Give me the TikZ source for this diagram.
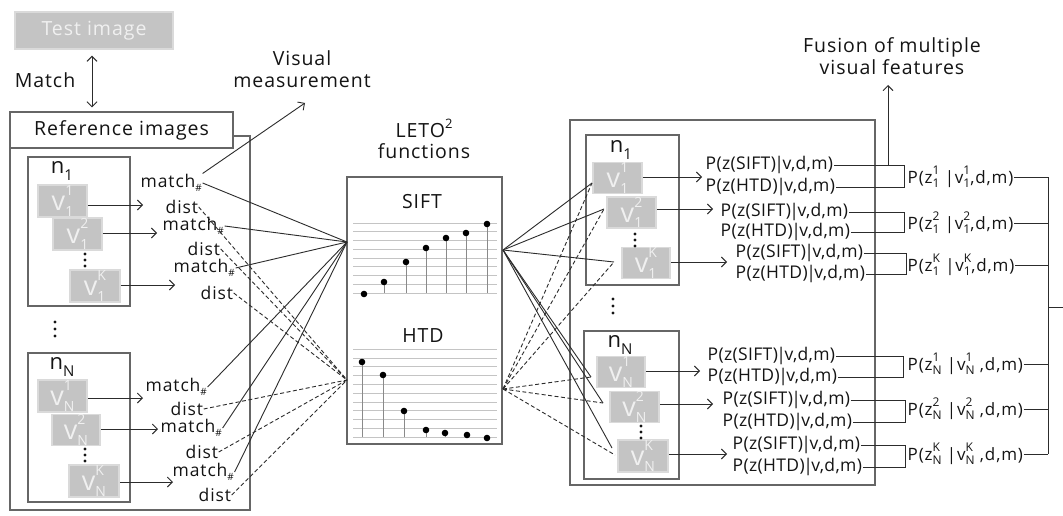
\documentclass[tikz,border=0pt]{standalone}
\usepackage{fontspec}
\setmainfont{Open Sans}[LetterSpace=5]
\usetikzlibrary{arrows.meta,calc}
\definecolor{ink}{HTML}{141414}
\definecolor{edge}{HTML}{666666}
\definecolor{wirec}{HTML}{2C2C2C}
\definecolor{imgfill}{HTML}{C4C4C4}
\definecolor{imgedge}{HTML}{DADADA}
\definecolor{imgtext}{HTML}{F0F0F0}
\definecolor{gridc}{HTML}{C4C4C4}
\definecolor{stemc}{HTML}{8A8A8A}

\newcommand\fs[1]{\fontsize{#1}{#1}\selectfont}
% superscript stacked over subscript: #1 size, #2 upper, #3 lower
\newcommand\stk[3]{%
  \setbox0=\hbox{\fs{#1}#2}\setbox2=\hbox{\fs{#1}#3}%
  \raisebox{0.55em}{\copy0}\kern-\wd0\raisebox{-0.22em}{\copy2}%
  \ifdim\wd0>\wd2 \kern\dimexpr\wd0-\wd2\relax\fi}
\newcommand\lowsc[1]{\raisebox{-0.3em}{\fs{15}#1}}
\newcommand\hsh{\raisebox{-0.25em}{\fs{10}\#}}
% narrow conditional bar
\newcommand\cbar{\kern-1.5pt|\kern-1.5pt}
\newcommand\plike[1]{P(z(#1)\cbar v,d,m)}

\begin{document}
\begin{tikzpicture}[x=1pt,y=-1pt,
  lbl/.style={text=ink, inner sep=1pt, font=\fs{19.5}, align=center},
  box/.style={draw=edge, line width=1.3pt, inner sep=0pt},
  img/.style={fill=imgfill, draw=imgedge, line width=1.5pt, text=imgtext, inner sep=0pt, font=\fs{27}},
  wire/.style={draw=wirec, line width=0.9pt},
  dwire/.style={wire, dash pattern=on 4pt off 2.5pt},
  arr/.style={wire, -{Straight Barb[length=5pt,width=10pt]}},
  darr/.style={wire, {Straight Barb[length=5pt,width=10pt]}-{Straight Barb[length=5pt,width=10pt]}},
  tag/.style={text=ink, inner sep=0.5pt, anchor=west, font=\fs{17.5}},
  prob/.style={text=ink, inner sep=0.5pt, anchor=west, font=\fs{17.5}\addfontfeatures{LetterSpace=2}},
  fused/.style={text=ink, inner sep=0.5pt, anchor=west, font=\fs{17}},
  gridline/.style={draw=gridc, line width=0.6pt},
  stem/.style={draw=stemc, line width=0.8pt},
  pt/.style={fill=black},
  vdot/.style={fill=ink},
]
\fill[white] (0,0) rectangle (1063,516);
\useasboundingbox (0,0) rectangle (1063,516);

% ---------------- left: test image and reference images ----------------
\node[fill=imgfill, draw=imgedge, line width=1.5pt, text=imgtext, font=\fs{19.5},
      minimum width=158pt, minimum height=37pt] (test) at (94,30.5) {Test image};
\node[lbl] (matchlab) at (45,80) {Match};

\node[box, minimum width=240pt, minimum height=374pt] (leftpanel) at (130,323) {};
\node[box, fill=white, minimum width=223pt, minimum height=36pt, text=ink, font=\fs{19.5}] (refimg) at (121.5,130) {Reference images};
\draw[darr, shorten <=6pt, shorten >=4pt] (test.south -| 92,0) -- (refimg.north -| 92,0);

\node[box, minimum width=102pt, minimum height=149pt] (ln1) at (79,231.5) {};
\node[box, minimum width=102pt, minimum height=149pt] (lnN) at (79,427.5) {};
\node[lbl, font=\fs{22}] (ln1lab) at (62,171) {n\lowsc{1}};
\node[lbl, font=\fs{22}] (lnNlab) at (62,367) {n\lowsc{N}};

\node[img, minimum width=49pt, minimum height=32pt] (L11) at (62.5,201) {v\stk{14}{1}{1}};
\node[img, minimum width=49pt, minimum height=32pt] (L12) at (77.5,234) {v\stk{14}{2}{1}};
\node[img, minimum width=50pt, minimum height=32pt] (L1K) at (95,286) {v\stk{14}{K}{1}};
\node[img, minimum width=49pt, minimum height=32pt] (LN1) at (62.5,396) {v\stk{14}{1}{N}};
\node[img, minimum width=48pt, minimum height=30pt] (LN2) at (76,430) {v\stk{14}{2}{N}};
\node[img, minimum width=50pt, minimum height=32pt] (LNK) at (94,481) {v\stk{14}{K}{N}};

% vertical ellipses
\foreach \y in {254,260,266} \fill[vdot] (85,\y) circle (1.7pt);
\foreach \y in {322,329,336} \fill[vdot] (55,\y) circle (1.7pt);
\foreach \y in {449,455,461} \fill[vdot] (85,\y) circle (1.7pt);

% measurement labels
\node[tag] (M11) at (140,183) {match\hsh};
\node[tag] (D11) at (165,207) {dist};
\node[tag] (M12) at (162,226) {match\hsh};
\node[tag] (D12) at (187,249) {dist};
\node[tag] (M1K) at (173,268) {match\hsh};
\node[tag] (D1K) at (200,293) {dist};
\node[tag] (MN1) at (145,387) {match\hsh};
\node[tag] (DN1) at (170,409) {dist};
\node[tag] (MN2) at (160,428) {match\hsh};
\node[tag] (DN2) at (185,452) {dist};
\node[tag] (MNK) at (172,472) {match\hsh};
\node[tag] (DNK) at (198,495) {dist};

\coordinate (t11) at (143,205);
\coordinate (t12) at (157,233);
\coordinate (t1K) at (175,285);
\coordinate (tN1) at (143,398);
\coordinate (tN2) at (158,429);
\coordinate (tNK) at (173,482);
\foreach \b/\t in {L11/t11,L12/t12,L1K/t1K,LN1/tN1,LN2/tN2,LNK/tNK}
  \draw[arr] (\b.east |- \t) -- (\t);

\node[lbl, align=center] (vm) at (302,69) {Visual\\[2pt]measurement};
\coordinate (vmTip) at (305,103);
\draw[arr] (M11.north east) -- (vmTip);

% ---------------- middle: LETO2 functions ----------------
\node[lbl] (leto) at (424,139) {LETO\raisebox{0.45em}{\fs{13}2}\\[1pt]functions};
\node[box, minimum width=155pt, minimum height=267pt] (mid) at (424.5,310.5) {};
\node[lbl] (sift) at (422,202) {SIFT};
\node[lbl] (htd) at (423,336) {HTD};

\foreach \k in {0,...,8} \draw[gridline] (353,{223+8.75*\k}) -- (497,{223+8.75*\k});
\foreach \x/\y in {364/294,384/282,406/262,426/248,446/238,466/233,487/224}
  {\draw[stem] (\x,\y) -- (\x,293); \fill[pt] (\x,\y) circle (3.3pt);}
\foreach \k in {0,...,10} \draw[gridline] (353,{349+8.8*\k}) -- (497,{349+8.8*\k});
\foreach \x/\y in {362/362,383/375,404/411,426/430,445/433,467/435,487/438}
  {\draw[stem] (\x,\y) -- (\x,437); \fill[pt] (\x,\y) circle (3.3pt);}

\coordinate (siftL) at (347,242);
\coordinate (htdL) at (347,380);
\coordinate (siftR) at (503,250);
\coordinate (htdR) at (503,389);

\foreach \n in {M11,M12,M1K,MN1,MN2,MNK} \draw[wire] (\n.east) -- (siftL);
\foreach \n in {D11,D12,D1K,DN1,DN2,DNK} \draw[dwire] (\n.east) -- (htdL);

% ---------------- right: per-feature likelihoods ----------------
\node[box, minimum width=305pt, minimum height=365pt] (rightpanel) at (722.5,302.5) {};
\node[box, minimum width=93pt, minimum height=150pt] (rn1) at (632.5,210) {};
\node[box, minimum width=95pt, minimum height=148pt] (rnN) at (631.5,405) {};
\node[lbl, font=\fs{22}] (rn1lab) at (621,150) {n\lowsc{1}};
\node[lbl, font=\fs{22}] (rnNlab) at (620,345) {n\lowsc{N}};

\node[img, minimum width=49pt, minimum height=30pt] (R11) at (617.5,178) {v\stk{14}{1}{1}};
\node[img, minimum width=49pt, minimum height=31pt] (R12) at (631.5,212.5) {v\stk{14}{2}{1}};
\node[img, minimum width=48pt, minimum height=30pt] (R1K) at (646,263) {v\stk{14}{K}{1}};
\node[img, minimum width=48pt, minimum height=30pt] (RN1) at (621,372) {v\stk{14}{1}{N}};
\node[img, minimum width=49pt, minimum height=30pt] (RN2) at (634.5,407) {v\stk{14}{2}{N}};
\node[img, minimum width=50pt, minimum height=32pt] (RNK) at (643,456) {v\stk{14}{K}{N}};

\foreach \y in {234,240,246} \fill[vdot] (635,\y) circle (1.7pt);
\foreach \y in {299,306,313} \fill[vdot] (613,\y) circle (1.7pt);
\foreach \y in {426,432,438} \fill[vdot] (641,\y) circle (1.7pt);

\coordinate (e11) at (592,183);
\coordinate (e12) at (604,209);
\coordinate (e1K) at (614,262);
\coordinate (eN1) at (591,377);
\coordinate (eN2) at (603,403);
\coordinate (eNKs) at (612,448);
\coordinate (eNKd) at (615,455);
\foreach \e in {e11,e12,e1K,eN1,eN2,eNKs} \draw[wire] (siftR) -- (\e);
\foreach \e in {e11,e12,e1K,eN1,eN2,eNKd} \draw[dwire] (htdR) -- (\e);

\coordinate (r11) at (702,177);
\coordinate (r12) at (713,209);
\coordinate (r1K) at (727,262);
\coordinate (rN1) at (700,371);
\coordinate (rN2) at (713,404);
\coordinate (rNK) at (727,454);
\foreach \b/\t in {R11/r11,R12/r12,R1K/r1K,RN1/rN1,RN2/rN2,RNK/rNK}
  \draw[arr] (\b.east |- \t) -- (\t);

\node[prob] (PS11) at (705,165) {\plike{SIFT}};
\node[prob] (PH11) at (705,187) {\plike{HTD}};
\node[prob] (PS12) at (720,212) {\plike{SIFT}};
\node[prob] (PH12) at (720,232) {\plike{HTD}};
\node[prob] (PS1K) at (735,253) {\plike{SIFT}};
\node[prob] (PH1K) at (735,274) {\plike{HTD}};
\node[prob] (PSN1) at (707,356) {\plike{SIFT}};
\node[prob] (PHN1) at (707,377) {\plike{HTD}};
\node[prob] (PSN2) at (722,400) {\plike{SIFT}};
\node[prob] (PHN2) at (722,422) {\plike{HTD}};
\node[prob] (PSNK) at (732,445) {\plike{SIFT}};
\node[prob] (PHNK) at (732,467) {\plike{HTD}};

% fused likelihoods
\node[fused] (F11) at (907,177) {P(z\stk{12}{1}{1} |v\stk{12}{1}{1},d,m)};
\node[fused] (F12) at (907,223) {P(z\stk{12}{2}{1} |v\stk{12}{2}{1},d,m)};
\node[fused] (F1K) at (907,265) {P(z\stk{12}{K}{1} |v\stk{12}{K}{1},d,m)};
\node[fused] (FN1) at (907,364) {P(z\stk{12}{1}{N} |v\stk{12}{1}{N} ,d,m)};
\node[fused] (FN2) at (907,409) {P(z\stk{12}{2}{N} |v\stk{12}{2}{N} ,d,m)};
\node[fused] (FNK) at (907,454) {P(z\stk{12}{K}{N} |v\stk{12}{K}{N} ,d,m)};

\foreach \s/\h/\kx in {PS11/PH11/904,PS12/PH12/904,PS1K/PH1K/906,PSN1/PHN1/903,PSN2/PHN2/905,PSNK/PHNK/905}
  \draw[wire] (\s.east) -- (\kx,0 |- \s.east) -- (\kx,0 |- \h.east) -- (\h.east);

\coordinate (bus) at (1048,0);
\coordinate (out) at (1063,307);
\foreach \f in {F11,F12,F1K,FN1,FN2,FNK} \draw[wire] (\f.east) -- (\f.east -| bus);
\draw[wire] (F11.east -| bus) -- (FNK.east -| bus);
\draw[wire] (bus |- out) -- (out);

\node[lbl] (fusion) at (892,56) {Fusion of multiple\\[2pt]visual features};
\coordinate (fusTip) at (888,85);
\draw[arr] (fusTip |- PS11.east) -- (fusTip);
\end{tikzpicture}
\end{document}
